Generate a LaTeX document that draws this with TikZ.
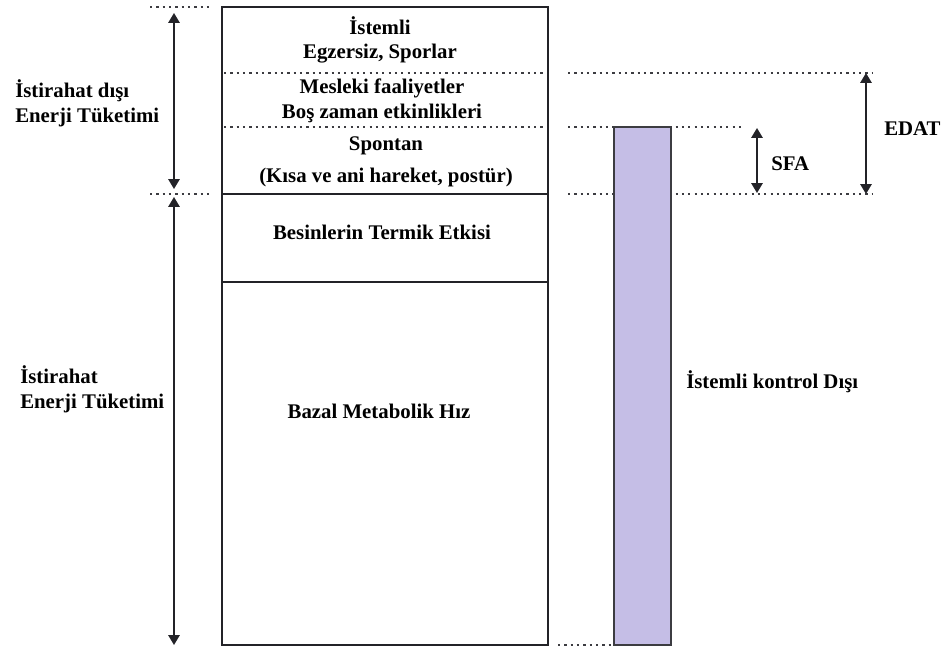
\documentclass[tikz,border=0pt]{standalone}
\usepackage{fontspec}
\setmainfont{Liberation Serif}
\usetikzlibrary{arrows.meta, positioning}
\definecolor{barlilac}{RGB}{197, 190, 230}
\definecolor{inkdark}{RGB}{35, 35, 40}
\definecolor{dotgray}{RGB}{60, 60, 65}

\begin{document}
\begin{tikzpicture}[x=0.025cm, y=-0.025cm,
  lbl/.style={font=\fontsize{14.8}{17.5}\selectfont\bfseries, text=black, align=center, inner sep=0pt},
  sidelbl/.style={lbl, align=left, anchor=west},
  dotline/.style={draw=dotgray, line width=1.6pt, dash pattern=on 1.6pt off 2.9pt},
  band/.style={draw=inkdark, line width=1.7pt},
  dimarrow/.style={draw=inkdark, line width=1.3pt, {Triangle[length=7pt,width=8pt]}-{Triangle[length=7pt,width=8pt]}}]
  \useasboundingbox (0,0) rectangle (947,650);

  % main column
  \draw[band] (222,7) rectangle (548,645);
  \draw[dotline] (224,73) -- (546,73);
  \draw[dotline] (224,127) -- (546,127);
  \draw[band] (222,194) -- (548,194);
  \draw[band] (222,282) -- (548,282);

  \node[lbl] (istemli) at (380,40) {İstemli\\Egzersiz, Sporlar};
  \node[lbl] (mesleki) at (382,101) {Mesleki faaliyetler\\Boş zaman etkinlikleri};
  \node[lbl] (spontan) at (386,162) {Spontan\\[5pt](Kısa ve ani hareket, postür)};
  \node[lbl] (termik) at (382,232) {Besinlerin Termik Etkisi};
  \node[lbl] (bazal) at (379,411) {Bazal Metabolik Hız};

  % guide lines
  \draw[dotline] (150,7) -- (212,7);
  \draw[dotline] (150,194) -- (212,194);
  \draw[dotline] (568,73) -- (872,73);
  \draw[dotline] (568,127) -- (745,127);
  \draw[dotline] (568,194) -- (872,194);
  \draw[dotline] (558,645) -- (612,645);

  % uncontrolled bar
  \draw[draw=dotgray, fill=barlilac, line width=1.3pt] (614,127) rectangle (671,645);
  \node[sidelbl] (kontrol) at (686,382) {İstemli kontrol Dışı};

  % left arrows
  \coordinate (nonrestTop) at (174,13);
  \coordinate (nonrestBot) at (174,189);
  \coordinate (restTop) at (174,197);
  \coordinate (restBot) at (174,645);
  \draw[dimarrow] (nonrestTop) -- (nonrestBot);
  \draw[dimarrow] (restTop) -- (restBot);
  \node[sidelbl] (nonrest) at (15,103) {İstirahat dışı\\Enerji Tüketimi};
  \node[sidelbl] (rest) at (20,389) {İstirahat\\Enerji Tüketimi};

  % right arrows
  \coordinate (sfaTop) at (757,128);
  \coordinate (sfaBot) at (757,193);
  \coordinate (edatTop) at (866,73);
  \coordinate (edatBot) at (866,194);
  \draw[dimarrow] (sfaTop) -- (sfaBot);
  \draw[dimarrow] (edatTop) -- (edatBot);
  \node[sidelbl] (sfa) at (771,164) {SFA};
  \node[sidelbl] (edat) at (884,129) {EDAT};
\end{tikzpicture}
\end{document}
